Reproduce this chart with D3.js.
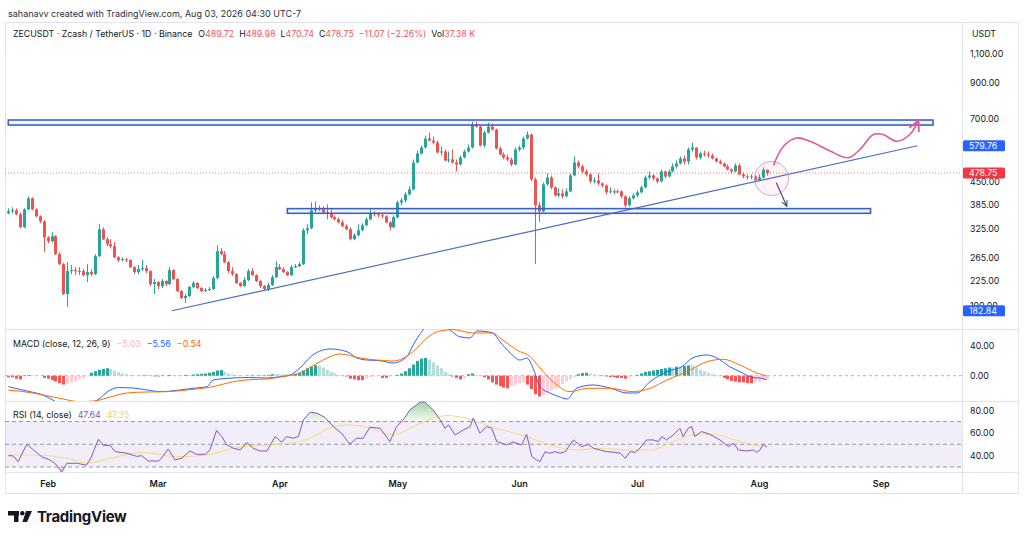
<!DOCTYPE html>
<html lang="en">
<head>
<meta charset="utf-8">
<title>ZECUSDT 1D</title>
<script src="https://d3js.org/d3.v7.min.js"></script>
<style>
  body { margin: 0; background: #fff; }
  svg text { font-family: Inter, "Liberation Sans", sans-serif; fill: #131722; }
  .tick line, .domain { display: none; }
</style>
</head>
<body>
<svg id="chart" width="1024" height="539"></svg>
<script>
// ---- data ----
// daily candles, first one is 2026-01-22
var startDay = Date.UTC(2026, 0, 22);
var firstOpen = 361.5;

var closes = [366.5,369.1,359.0,327.9,371.7,401.4,371.7,354.0,341.9,305.8,
  297.4,307.9,271.6,253.4,205.6,241.3,243.0,241.3,241.3,234.7,
  239.7,236.3,267.9,323.3,301.6,291.2,287.2,266.0,260.5,262.3,
  260.5,248.1,239.7,244.7,246.4,241.3,220.4,223.5,217.4,225.1,
  220.4,243.0,228.2,209.9,200.0,202.8,215.9,222.0,214.4,209.9,
  211.4,212.9,229.9,277.4,271.6,256.9,241.3,236.3,222.0,217.4,
  226.6,241.3,234.7,225.1,217.4,212.9,218.9,231.5,248.1,244.7,
  239.7,234.7,248.1,249.9,253.4,321.1,325.6,369.1,374.3,371.7,
  364.0,361.5,351.6,346.7,339.5,330.2,323.3,301.6,310.1,321.1,
  332.5,346.7,361.5,359.0,356.5,354.0,339.5,327.9,351.6,390.3,
  395.7,412.7,427.3,515.7,549.1,572.6,609.6,601.2,592.9,553.0,
  556.8,523.0,526.6,515.7,508.6,534.1,556.8,572.6,672.1,662.8,
  580.6,635.7,662.8,649.1,568.6,545.3,534.1,526.6,508.6,564.6,
  572.6,609.6,626.8,458.1,382.2,366.5,442.4,464.6,433.3,409.8,
  415.6,407.0,421.4,471.1,515.7,501.6,484.4,474.4,451.8,454.9,
  445.5,439.3,418.5,421.4,418.5,421.4,407.0,382.2,401.4,409.8,
  418.5,433.3,464.6,471.1,461.4,451.8,484.4,467.8,484.4,501.6,
  512.2,530.4,519.3,564.6,572.6,534.1,549.1,545.3,541.5,530.4,
  519.3,512.2,501.6,491.2,484.4,505.1,474.4,467.8,464.6,467.8,
  454.9,464.6,489.72,478.75];

var highs = [374.3,376.9,374.3,364.0,374.3,407.0,404.2,374.3,356.5,344.3,
  307.9,316.6,310.1,275.5,255.1,256.9,251.6,248.1,248.1,244.7,
  253.4,244.7,271.6,334.8,327.9,305.8,301.6,295.3,267.9,266.0,
  264.2,262.3,249.9,251.6,260.5,251.6,243.0,228.2,225.1,228.2,
  226.6,248.1,244.7,229.9,211.4,205.6,217.4,225.1,223.5,215.9,
  214.4,215.9,233.1,289.2,283.2,277.4,258.7,248.1,238.0,223.5,
  231.5,244.7,246.4,236.3,226.6,218.9,222.0,234.7,258.7,253.4,
  248.1,241.3,251.6,253.4,256.9,325.6,334.8,390.3,393.0,382.2,
  379.5,384.9,371.7,356.5,351.6,344.3,334.8,327.9,314.4,334.8,
  337.2,351.6,371.7,366.5,364.0,361.5,356.5,341.9,356.5,395.7,
  401.4,418.5,436.3,526.6,560.7,580.6,622.5,635.7,618.2,601.2,
  576.6,564.6,556.8,564.6,526.6,541.5,564.6,584.7,686.3,686.3,
  667.4,644.6,681.5,676.8,653.6,576.6,553.0,545.3,534.1,572.6,
  580.6,618.2,640.1,631.3,464.6,390.3,448.6,477.7,471.1,436.3,
  430.3,427.3,430.3,477.7,537.8,523.0,508.6,491.2,477.7,464.6,
  477.7,448.6,442.4,433.3,427.3,427.3,424.3,409.8,407.0,415.6,
  424.3,439.3,471.1,484.4,474.4,464.6,491.2,487.8,491.2,512.2,
  523.0,537.8,541.5,572.6,592.9,572.6,556.8,560.7,556.8,549.1,
  534.1,526.6,515.7,508.6,494.6,512.2,512.2,481.0,474.4,474.4,
  471.1,474.4,498.1,489.98];

var lows = [359.0,361.5,356.5,325.6,325.6,369.1,369.1,351.6,337.2,275.5,
  293.3,295.3,269.7,251.6,204.2,187.8,236.3,234.7,234.7,233.1,
  223.5,233.1,234.7,266.0,299.5,287.2,283.2,264.2,256.9,258.7,
  256.9,246.4,236.3,236.3,241.3,238.0,217.4,205.6,212.9,214.4,
  217.4,218.9,226.6,208.5,198.5,193.1,201.4,214.4,212.9,208.5,
  208.5,209.9,211.4,228.2,269.7,255.1,238.0,233.1,220.4,215.9,
  215.9,225.1,233.1,223.5,214.4,211.4,209.9,217.4,229.9,243.0,
  238.0,233.1,233.1,246.4,248.1,251.6,312.3,323.3,364.0,366.5,
  361.5,346.7,349.1,344.3,337.2,327.9,321.1,299.5,299.5,307.9,
  318.8,330.2,344.3,354.0,351.6,349.1,337.2,321.1,325.6,349.1,
  382.2,390.3,409.8,424.3,512.2,545.3,568.6,597.0,584.7,549.1,
  541.5,519.3,515.7,512.2,484.4,505.1,530.4,553.0,568.6,658.2,
  576.6,572.6,631.3,644.6,564.6,541.5,526.6,519.3,501.6,505.1,
  556.8,564.6,605.4,451.8,253.4,339.5,364.0,439.3,427.3,407.0,
  404.2,401.4,404.2,418.5,467.8,494.6,477.7,467.8,445.5,445.5,
  439.3,433.3,412.7,415.6,412.7,415.6,401.4,376.9,379.5,398.5,
  404.2,415.6,430.3,458.1,454.9,445.5,448.6,461.4,464.6,481.0,
  494.6,508.6,508.6,508.6,556.8,526.6,526.6,537.8,534.1,526.6,
  515.7,508.6,498.1,487.8,477.7,481.0,471.1,461.4,458.1,458.1,
  448.6,454.9,461.4,470.74];

// MACD histogram, one bar per candle
var macdHist = [-2,-2,-4,-5,0.5,1,1,0.5,0,-3,
  -4,-6,-8,-10,-12,-11,-9,-7,-5,-3,
  -1,4,6,8,9,10,9,7,5,3,
  2,1,0.5,0,-0.5,0.5,0.5,-1,-1,0.5,
  0.5,1,1,0.5,0.5,1,1,1.5,2,2.5,
  3,4,5,7,7.5,5,3,2,1,0.5,
  0.2,-0.3,-0.5,0.3,0.5,-0.3,1,2,2,2,
  2,2,2,2.5,4,7,10,12,14,13,
  11,8,5,3,1,0,-1,-4,-5,-6,
  -6,-4,-2,-1,-0.5,-3,-3,-1,0,1,
  3,6,10,15,20,23,24,22,18,14,
  10,5,2,-1,-3,-5,-4,2,3,1,
  0.5,-2,-5,-9,-12,-14,-16,-17,-14,-12,
  -10,-9,-12,-18,-25,-28,-26,-23,-20,-17,
  -14,-11,-8,-5,-2,2,3.5,4,3,2,
  1,-0.5,-1,-2,-2,-3,-3,-4,-2,-1,
  1,3,5,6,7,8,9,10,11,11,
  12,12,13,14,14,11,8,6,4,2,
  1,0,-3,-5,-7,-8,-9,-9,-10,-10,
  -9,-8,-6.5,-5.03];

// [day, value] readings of the MACD and signal lines
var macdLine = [[0,-14.8],[5.5,-21.5],[8.8,-26],[11.4,-33],[14,-40],[17,-42],[20,-38],[22.6,-33],
  [25.9,-19.3],[28,-16],[31.7,-16.6],[35,-19],[38.6,-21.5],[43.7,-19.3],[47,-17],[50.6,-14.8],
  [52.1,-5.8],[57.2,-3.1],[61,-2.5],[65.8,-3.1],[69,-1.5],[71.7,0.9],[74.2,10.4],[77.5,27.9],
  [81.9,36],[86.2,32.3],[88.7,23.8],[91.3,21.1],[94.6,20.2],[97.9,17.1],[101.4,25.6],[103,41.3],
  [105.5,61.5],[108,75],[110.5,70],[112.4,61.5],[114.9,52.5],[117.5,50.8],[119.3,60.2],[121.8,59.3],
  [123.3,57.5],[125.1,45.8],[127.7,30.6],[130.2,21.1],[132,23.8],[133.5,10.4],[135.3,-14.8],
  [137.8,-23.3],[140,-28],[142.2,-31.4],[144.7,-16.6],[148.8,-12.5],[153.1,-16.6],[157.4,-23.3],
  [160,-23.3],[163.3,-8.1],[167.6,5.4],[171.4,12.1],[174.2,24.2],[177.8,27.9],[180.3,23.8],
  [183.6,12.1],[186.9,3.6],[189.5,-2.7],[191.3,-3.1],[193,-5.56]];

var signalLine = [[0,-19.3],[6.3,-23.3],[13.9,-31.4],[18,-35],[22,-34],[25.1,-30],[30.2,-23.3],
  [35,-22],[40.4,-21.5],[46,-19],[52.1,-14.8],[57.2,-8.1],[61,-5.5],[65.8,-4.4],[70,-1],[74.2,3.6],
  [79.3,18.9],[84.4,29.2],[89.5,23.8],[93,21.5],[97.9,19.8],[103,32.3],[106.5,50.8],[109.8,60.2],
  [113.2,62],[118.2,57.5],[123.3,57.5],[125.1,50.8],[126.9,44],[129.4,34.6],[132.8,25.6],
  [135.3,10.4],[138.6,-8.1],[142.9,-21.5],[147.3,-17],[153.1,-17],[159,-21.5],[163.3,-17],
  [167.6,-5.8],[172.7,5.4],[177.8,18.9],[181.9,22.1],[186.2,14.4],[190.5,3.6],[193,-0.54]];

// [day, value] readings of RSI(14) and its moving average
var rsiLine = [[0,40],[1.3,39.7],[2.5,34.7],[4.7,50],[6.4,45],[8.5,39],[10.6,36.2],[12.3,31.8],
  [13.6,25.3],[14.9,33.3],[17.4,33.3],[19.9,31.6],[21,37.8],[22.9,54.4],[24.2,49],[25.9,49],
  [27.2,43.5],[30.1,42.2],[32.7,39.3],[33.9,40],[35.6,35.3],[38.2,35.3],[39,37.7],[40.7,45.9],
  [42.4,36.2],[44.1,37.7],[46.2,44.1],[47.9,41.2],[50.1,41.2],[51.3,45],[53,62.1],[54.3,56.8],
  [55.6,49.4],[57.3,46.5],[59,45],[60.7,51.5],[62.3,46.5],[64,44.1],[65.8,44.1],[67.9,56.8],
  [69.6,51.8],[70.8,56.8],[72.5,55.3],[73.8,56.8],[75.1,71.5],[76.8,78.3],[78.5,77.4],[80.6,73.6],
  [82.7,65.6],[84.8,59.7],[86.9,50],[88.6,55.3],[90.3,55.3],[92,65],[94.6,64.1],[97.1,52.4],
  [98.8,65.6],[100.5,71.5],[102.2,80.3],[104.8,87.1],[106,87.1],[108.1,80.3],[109.9,71.5],
  [111.1,64.1],[112,67.1],[113.7,58.2],[115.8,62.6],[117.5,65.6],[118.3,73],[120,59.7],
  [121.7,65.6],[123,64.1],[124.3,52.4],[126.8,49.4],[128.4,52],[130.6,49.4],[131.9,58.8],
  [133.2,39.1],[134.5,36.2],[135.3,34.7],[136.6,43.5],[137.8,42.1],[139.1,43.5],[140.4,42.1],
  [141.7,43.5],[143.8,53.8],[145.9,47.9],[147.6,50],[148.9,46.5],[150.6,45],[152.3,43.5],
  [154.4,42.9],[155.7,42.1],[157,37.7],[158.2,43.5],[159.5,42.9],[160.7,46.5],[162.4,53.8],
  [164.1,53.8],[165.4,52.4],[166.3,56.8],[167.5,53.8],[169.2,58.2],[170.9,64.1],[171.7,56.8],
  [173,64.1],[173.9,65.6],[174.7,56.8],[176.4,61.2],[178.5,58.8],[181.1,53.8],[183.2,47.9],
  [184.5,50.9],[185.8,45],[187.9,44.1],[189.6,45],[190.4,42.9],[191.3,45],[192.1,50],[193,47.64]];

var rsiMa = [[0,40.6],[6.4,40.6],[14.9,37.7],[19.9,33.3],[25.9,37.7],[34.4,42.9],[42.9,39.1],
  [50.5,40.6],[57.3,46.5],[65.8,49.4],[74.2,52.4],[78.5,58.2],[82.7,65.6],[86.9,67.1],[91.2,64.7],
  [98,58.2],[103.1,65.6],[108.1,73],[111.6,75.4],[116.6,73],[122.6,65.6],[128.5,60],[131.9,56.8],
  [137.8,49.4],[144.6,45],[150.6,46.5],[157.3,45],[163.3,45],[169.2,52.4],[175.2,58.8],
  [180.3,58.2],[186.2,52.4],[193,47.35]];

var priceTicks = [1100, 900, 700, 450, 385, 325, 265, 225, 190];
var macdTicks = [40, 0];
var rsiTicks = [80, 60, 40];
var rsiLevels = [70, 50, 30];

// drawings on the chart (day offsets and prices)
var zones = [[0, 235.3, 670, 694], [71, 219.4, 361.5, 373.5]];
var trendLine = [[41.6, 182.84], [231.3, 579.76]];
var focusCircle = [194.2, 461];
var downArrow = [[195.4, 448], [198.1, 380]];
var pathIdea = [[194.7,505],[197.2,577],[200.6,612],[204,598],[209.1,559],[213.7,533],
  [216.7,565],[220.1,627],[222.6,627],[226,598],[229.4,627],[231.6,692]];

var lastPrice = 478.75;

// ---- layout ----
var L = 5, R = 1018, axisX = 962;
var mainTop = 22, mainBot = 329, macdBot = 401, rsiBot = 472, frameBot = 493;
var up = "#26a69a", down = "#ef5350";
var legendSize = "8.8px", axisSize = "8.8px";

var svg = d3.select("#chart");
var dayDate = function(i) { return new Date(startDay + i * 864e5); };

var x = d3.scaleUtc()
  .domain([dayDate(0), dayDate(251)])
  .range([8.3, 8.3 + 3.93 * 251]);
var y = d3.scaleLog().domain([161, 1377]).range([mainBot, mainTop]);
var yM = d3.scaleLinear().domain([-34.1, 62.9]).range([macdBot, mainBot]);
var yR = d3.scaleLinear().domain([25.6, 88.1]).range([rsiBot, macdBot]);

function clip(id, y0, y1) {
  svg.append("clipPath").attr("id", id).append("rect")
    .attr("x", L).attr("y", y0).attr("width", axisX - L).attr("height", y1 - y0);
}
clip("cMain", mainTop, mainBot);
clip("cMacd", mainBot, macdBot);
clip("cRsi", macdBot, rsiBot);

// header
svg.append("text").attr("x", 8).attr("y", 14).attr("dy", "0.35em")
  .style("font-size", "9px").style("fill", "#2a2e39")
  .text("sahanavv created with TradingView.com, Aug 03, 2026 04:30 UTC-7");

// frame and separators
var grid = svg.append("g").attr("stroke", "#e0e3eb").attr("stroke-width", 1).attr("fill", "none");
grid.append("rect").attr("x", L + 0.5).attr("y", mainTop + 0.5).attr("width", R - L).attr("height", frameBot - mainTop);
[mainBot, macdBot, rsiBot].forEach(function(v) {
  grid.append("line").attr("x1", L).attr("x2", R).attr("y1", v + 0.5).attr("y2", v + 0.5);
});
grid.append("line").attr("x1", axisX + 0.5).attr("x2", axisX + 0.5).attr("y1", mainTop).attr("y2", frameBot);

// ---- main pane ----
var main = svg.append("g").attr("clip-path", "url(#cMain)");

main.append("line")
  .attr("x1", L).attr("x2", axisX).attr("y1", y(lastPrice)).attr("y2", y(lastPrice))
  .attr("stroke", "#f23645").attr("stroke-dasharray", "1,2").attr("opacity", 0.7);

var candles = closes.map(function(c, i) {
  // crypto daily bars open where the previous bar closed
  return { d: dayDate(i), o: i ? closes[i - 1] : firstOpen, h: highs[i], l: lows[i], c: c };
});
if (candles.length) candles[candles.length - 1].o = 489.72;

var cg = main.append("g");
cg.selectAll("line").data(candles).enter().append("line")
  .attr("x1", function(d) { return Math.round(x(d.d)) + 0.5; })
  .attr("x2", function(d) { return Math.round(x(d.d)) + 0.5; })
  .attr("y1", function(d) { return y(d.h); })
  .attr("y2", function(d) { return y(d.l); })
  .attr("stroke", function(d) { return d.c >= d.o ? up : down; });
cg.selectAll("rect").data(candles).enter().append("rect")
  .attr("x", function(d) { return Math.round(x(d.d)) - 1; })
  .attr("width", 3)
  .attr("y", function(d) { return y(Math.max(d.o, d.c)); })
  .attr("height", function(d) { return Math.max(1, Math.abs(y(d.o) - y(d.c))); })
  .attr("fill", function(d) { return d.c >= d.o ? up : down; });

// zones
main.selectAll("rect.zone").data(zones).enter().append("rect").attr("class", "zone")
  .attr("x", function(d) { return x(dayDate(d[0])); })
  .attr("width", function(d) { return x(dayDate(d[1])) - x(dayDate(d[0])); })
  .attr("y", function(d) { return y(d[3]); })
  .attr("height", function(d) { return y(d[2]) - y(d[3]); })
  .attr("fill", "rgba(41,98,255,0.06)").attr("stroke", "#3d5fc8").attr("stroke-width", 1.6);

// trend line
main.append("line")
  .attr("x1", x(dayDate(trendLine[0][0]))).attr("y1", y(trendLine[0][1]))
  .attr("x2", x(dayDate(trendLine[1][0]))).attr("y2", y(trendLine[1][1]))
  .attr("stroke", "#4a6cc4").attr("stroke-width", 1.1);

// focus circle
main.append("circle")
  .attr("cx", x(dayDate(focusCircle[0]))).attr("cy", y(focusCircle[1])).attr("r", 17)
  .attr("fill", "rgba(233,30,99,0.05)").attr("stroke", "#d8a7c8").attr("stroke-width", 1);

// arrows
var defs = svg.append("defs");
function marker(id, color, size) {
  defs.append("marker").attr("id", id).attr("viewBox", "0 0 10 10")
    .attr("refX", 9).attr("refY", 5).attr("markerWidth", size).attr("markerHeight", size)
    .attr("orient", "auto").attr("markerUnits", "userSpaceOnUse")
    .append("path").attr("d", "M1,1 L9,5 L1,9").attr("fill", "none")
    .attr("stroke", color).attr("stroke-width", 1.4);
}
marker("arrDown", "#2f3e66", 7);
marker("arrPink", "#e05a96", 13);

main.append("line")
  .attr("x1", x(dayDate(downArrow[0][0]))).attr("y1", y(downArrow[0][1]))
  .attr("x2", x(dayDate(downArrow[1][0]))).attr("y2", y(downArrow[1][1]))
  .attr("stroke", "#2f3e66").attr("stroke-width", 1.1).attr("marker-end", "url(#arrDown)");

main.append("path")
  .attr("d", d3.line()
    .x(function(d) { return x(dayDate(d[0])); })
    .y(function(d) { return y(d[1]); })
    .curve(d3.curveCatmullRom.alpha(0.5))(pathIdea))
  .attr("fill", "none").attr("stroke", "#e05a96").attr("stroke-width", 1.6)
  .attr("marker-end", "url(#arrPink)");

// legend
var lg = svg.append("text").attr("x", 13).attr("y", 34).attr("dy", "0.35em").style("font-size", legendSize);
var red = "#f7525f";
[["ZECUSDT · Zcash / TetherUS · 1D · Binance", "#131722", 0],
 ["O", "#131722", 6], ["489.72", red, 0],
 ["H", "#131722", 5], ["489.98", red, 0],
 ["L", "#131722", 5], ["470.74", red, 0],
 ["C", "#131722", 5], ["478.75", red, 0],
 ["−11.07 (−2.26%)", red, 5],
 ["Vol", "#131722", 5], ["37.38 K", red, 0]].forEach(function(p) {
  lg.append("tspan").attr("dx", p[2]).style("fill", p[1]).text(p[0]);
});

// price axis (labels hidden behind tags show only partly, as on the original)
var ya = svg.append("g").attr("transform", "translate(" + axisX + ",0)")
  .call(d3.axisRight(y).tickValues(priceTicks).tickFormat(d3.format(",.2f")).tickSize(0).tickPadding(8));
ya.selectAll("text").style("font-size", axisSize).style("fill", "#131722");
svg.append("text").attr("x", 972).attr("y", 34).attr("dy", "0.35em")
  .style("font-size", axisSize).text("USDT");

function priceTag(v, color) {
  var g = svg.append("g").attr("transform", "translate(" + (axisX + 1) + "," + y(v) + ")");
  g.append("rect").attr("x", 0).attr("y", -5.5).attr("width", 42).attr("height", 11).attr("rx", 1.5)
    .attr("fill", color);
  g.append("text").attr("x", 6).attr("dy", "0.35em").style("font-size", axisSize)
    .style("fill", "#fff").text(d3.format(",.2f")(v));
}
priceTag(trendLine[1][1], "#2962ff");
priceTag(lastPrice, "#f23645");
priceTag(trendLine[0][1], "#2962ff");

// ---- MACD pane ----
var mp = svg.append("g").attr("clip-path", "url(#cMacd)");
mp.append("line").attr("x1", L).attr("x2", axisX).attr("y1", yM(0)).attr("y2", yM(0))
  .attr("stroke", "#b2b5be").attr("stroke-dasharray", "3,3");
mp.selectAll("rect").data(macdHist).enter().append("rect")
  .attr("x", function(d, i) { return Math.round(x(dayDate(i))) - 1; })
  .attr("width", 3)
  .attr("y", function(d) { return Math.min(yM(d), yM(0)); })
  .attr("height", function(d) { return Math.abs(yM(d) - yM(0)); })
  .attr("fill", function(d, i) {
    var prev = i ? macdHist[i - 1] : d;
    if (d >= 0) return prev < d ? "#26a69a" : "#b2dfdb";
    return prev < d ? "#ffcdd2" : "#ff5252";
  });
var lineM = d3.line().x(function(d) { return x(dayDate(d[0])); }).y(function(d) { return yM(d[1]); })
  .curve(d3.curveMonotoneX);
mp.append("path").attr("d", lineM(macdLine)).attr("fill", "none").attr("stroke", "#2962ff").attr("stroke-width", 1);
mp.append("path").attr("d", lineM(signalLine)).attr("fill", "none").attr("stroke", "#ff6d00").attr("stroke-width", 1);

var ml = svg.append("text").attr("x", 13).attr("y", 343.5).attr("dy", "0.35em").style("font-size", legendSize);
[["MACD (close, 12, 26, 9)", "#131722", 0], ["−5.03", "#f7b3c2", 6], ["−5.56", "#2962ff", 6], ["−0.54", "#ff6d00", 6]]
  .forEach(function(p) { ml.append("tspan").attr("dx", p[2]).style("fill", p[1]).text(p[0]); });

var ma = svg.append("g").attr("transform", "translate(" + axisX + ",0)")
  .call(d3.axisRight(yM).tickValues(macdTicks).tickFormat(d3.format(".2f")).tickSize(0).tickPadding(8));
ma.selectAll("text").style("font-size", axisSize);

// ---- RSI pane ----
var rp = svg.append("g").attr("clip-path", "url(#cRsi)");
rp.append("rect").attr("x", L).attr("width", axisX - L)
  .attr("y", yR(70)).attr("height", yR(30) - yR(70)).attr("fill", "rgba(126,87,194,0.1)");
rp.selectAll("line.lvl").data(rsiLevels).enter().append("line").attr("class", "lvl")
  .attr("x1", L).attr("x2", axisX)
  .attr("y1", function(d) { return yR(d); }).attr("y2", function(d) { return yR(d); })
  .attr("stroke", "#9598a1").attr("stroke-dasharray", "4,3");

var grad = defs.append("linearGradient").attr("id", "obGrad").attr("x1", 0).attr("x2", 0)
  .attr("gradientUnits", "userSpaceOnUse").attr("y1", yR(88)).attr("y2", yR(70));
grad.append("stop").attr("offset", 0).attr("stop-color", "rgba(76,175,80,0.55)");
grad.append("stop").attr("offset", 1).attr("stop-color", "rgba(76,175,80,0.05)");
defs.append("clipPath").attr("id", "cOb").append("rect")
  .attr("x", L).attr("width", axisX - L).attr("y", macdBot).attr("height", yR(70) - macdBot);
defs.append("clipPath").attr("id", "cOs").append("rect")
  .attr("x", L).attr("width", axisX - L).attr("y", yR(30)).attr("height", rsiBot - yR(30));

var areaR = function(level) {
  return d3.area().x(function(d) { return x(dayDate(d[0])); })
    .y0(yR(level)).y1(function(d) { return yR(d[1]); });
};
rp.append("path").attr("d", areaR(70)(rsiLine)).attr("fill", "url(#obGrad)").attr("clip-path", "url(#cOb)");
rp.append("path").attr("d", areaR(30)(rsiLine)).attr("fill", "rgba(242,54,69,0.25)").attr("clip-path", "url(#cOs)");

var lineR = d3.line().x(function(d) { return x(dayDate(d[0])); }).y(function(d) { return yR(d[1]); });
rp.append("path").attr("d", lineR.curve(d3.curveMonotoneX)(rsiMa)).attr("fill", "none")
  .attr("stroke", "#f6dc86").attr("stroke-width", 1.1);
rp.append("path").attr("d", lineR.curve(d3.curveLinear)(rsiLine)).attr("fill", "none")
  .attr("stroke", "#7e57c2").attr("stroke-width", 1);

var rl = svg.append("text").attr("x", 13).attr("y", 415).attr("dy", "0.35em").style("font-size", legendSize);
[["RSI (14, close)", "#131722", 0], ["47.64", "#7e57c2", 6], ["47.35", "#f0cf5a", 6]]
  .forEach(function(p) { rl.append("tspan").attr("dx", p[2]).style("fill", p[1]).text(p[0]); });

var ra = svg.append("g").attr("transform", "translate(" + axisX + ",0)")
  .call(d3.axisRight(yR).tickValues(rsiTicks).tickFormat(d3.format(".2f")).tickSize(0).tickPadding(8));
ra.selectAll("text").style("font-size", axisSize);

// ---- time axis ----
var xa = svg.append("g").attr("transform", "translate(0," + rsiBot + ")")
  .call(d3.axisBottom(x).ticks(d3.utcMonth.every(1)).tickFormat(d3.utcFormat("%b")).tickSize(0));
xa.selectAll("text").attr("y", 12).attr("dy", "0.35em")
  .style("font-size", "9px").style("font-weight", 600);
xa.selectAll(".tick").filter(function(d) { return d < dayDate(1) || x(d) > axisX - 10; }).remove();

// ---- footer logo ----
var logo = svg.append("g").attr("fill", "#131722");
logo.append("rect").attr("x", 8).attr("y", 511).attr("width", 11).attr("height", 4.5);
logo.append("rect").attr("x", 14).attr("y", 511).attr("width", 4.5).attr("height", 11);
logo.append("circle").attr("cx", 22.3).attr("cy", 513.2).attr("r", 2.2);
logo.append("path").attr("d", "M26,511 L32,511 L27,522 L22.5,522 Z");
svg.append("text").attr("x", 37).attr("y", 516.5).attr("dy", "0.35em")
  .style("font-size", "15px").style("font-weight", 700).style("letter-spacing", "-0.3px")
  .text("TradingView");
</script>
</body>
</html>
